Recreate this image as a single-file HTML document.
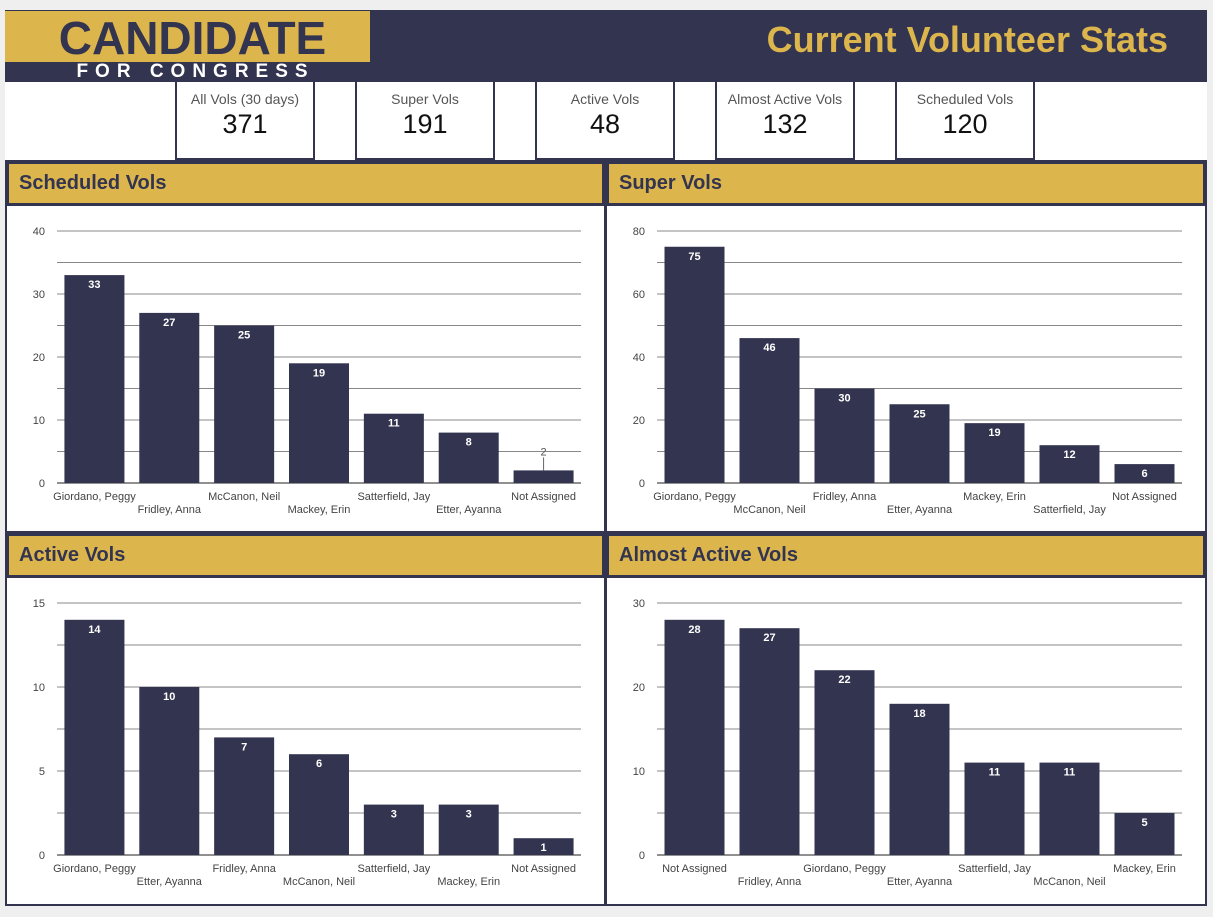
<!DOCTYPE html>
<html><head><meta charset="utf-8">
<style>
*{box-sizing:border-box;margin:0;padding:0}
body{width:1213px;height:917px;background:#efefef;font-family:"Liberation Sans",sans-serif;position:relative;overflow:hidden}
.abs{position:absolute}
#hdr{left:5px;top:10px;width:1202px;height:72px;background:#33344f}
#logo{left:5px;top:11px;width:365px;height:51px;background:#dcb64d;color:#33344f;font-weight:bold;font-size:46px;text-align:center;line-height:54px;letter-spacing:0px;padding-left:10px}
#logo2{left:5px;top:62px;width:365px;height:20px;color:#fff;font-weight:bold;font-size:19px;letter-spacing:7px;text-align:center;line-height:20px;padding-left:16px}
#title{right:45px;top:16px;color:#dcb64d;font-weight:bold;font-size:36px;line-height:48px}
#kpirow{left:5px;top:82px;width:1202px;height:78px;background:#fff}
.card{top:82px;width:140px;height:78px;background:#fff;border:2px solid #33344f;border-top:none;text-align:center}
.card .l{font-size:14px;color:#555;margin-top:9px}
.card .v{font-size:27px;color:#111;margin-top:2px}
.panel{background:#fff;border:2px solid #33344f}
.ph{background:#dcb64d;border:3px solid #33344f;color:#33344f;font-weight:bold;font-size:20px;line-height:39px;padding-left:10px}
</style></head><body>
<div id="hdr" class="abs"></div>
<div id="logo" class="abs">CANDIDATE</div>
<div id="logo2" class="abs">FOR CONGRESS</div>
<div id="title" class="abs">Current Volunteer Stats</div>
<div id="kpirow" class="abs"></div>
<div class="abs card" style="left:175px"><div class="l">All Vols (30 days)</div><div class="v">371</div></div>
<div class="abs card" style="left:355px"><div class="l">Super Vols</div><div class="v">191</div></div>
<div class="abs card" style="left:535px"><div class="l">Active Vols</div><div class="v">48</div></div>
<div class="abs card" style="left:715px"><div class="l">Almost Active Vols</div><div class="v">132</div></div>
<div class="abs card" style="left:895px"><div class="l">Scheduled Vols</div><div class="v">120</div></div>

<div class="abs panel" style="left:5px;top:160px;width:601px;height:373px"></div>
<div class="abs panel" style="left:605px;top:160px;width:602px;height:373px"></div>
<div class="abs panel" style="left:5px;top:532px;width:601px;height:374px"></div>
<div class="abs panel" style="left:605px;top:532px;width:602px;height:374px"></div>
<div class="abs ph" style="left:6px;top:161px;width:599px;height:45px">Scheduled Vols</div>
<div class="abs ph" style="left:606px;top:161px;width:600px;height:45px">Super Vols</div>
<div class="abs ph" style="left:6px;top:533px;width:599px;height:45px">Active Vols</div>
<div class="abs ph" style="left:606px;top:533px;width:600px;height:45px">Almost Active Vols</div>

<svg class="abs" style="left:0;top:0" width="1213" height="917" id="charts"></svg>
<script>
const schedCats=["Giordano, Peggy","Fridley, Anna","McCanon, Neil","Mackey, Erin","Satterfield, Jay","Etter, Ayanna","Not Assigned"];
const schedVals=[33,27,25,19,11,8,2];
const schedTicks=[0,10,20,30,40];
const superCats=["Giordano, Peggy","McCanon, Neil","Fridley, Anna","Etter, Ayanna","Mackey, Erin","Satterfield, Jay","Not Assigned"];
const superVals=[75,46,30,25,19,12,6];
const superTicks=[0,20,40,60,80];
const activeCats=["Giordano, Peggy","Etter, Ayanna","Fridley, Anna","McCanon, Neil","Satterfield, Jay","Mackey, Erin","Not Assigned"];
const activeVals=[14,10,7,6,3,3,1];
const activeTicks=[0,5,10,15];
const almostCats=["Not Assigned","Fridley, Anna","Giordano, Peggy","Etter, Ayanna","Satterfield, Jay","McCanon, Neil","Mackey, Erin"];
const almostVals=[28,27,22,18,11,11,5];
const almostTicks=[0,10,20,30];

const NS="http://www.w3.org/2000/svg";
const svg=document.getElementById('charts');
function mk(tag,attrs,parent){const e=document.createElementNS(NS,tag);for(const k in attrs)e.setAttribute(k,attrs[k]);(parent||svg).appendChild(e);return e;}
function chart(name,x0,x1,yTop,yBot,cats,vals,ticks){
  const g=mk('g',{});
  
  
  const max=ticks[ticks.length-1];
  const step=ticks[1]-ticks[0];
  const y=v=>yBot-(v/max)*(yBot-yTop);
  for(let v=0;v<=max+1e-9;v+=step/2){
    const l=mk('line',{x1:x0,x2:x1,y1:y(v),y2:y(v),stroke:v===0?'#222':'#888','stroke-width':1},g);
    
    
  }
  ticks.forEach(t=>{
    const tx=mk('text',{x:x0-12,y:y(t)+4,'text-anchor':'end','font-size':11,fill:'#444'},g);
    tx.textContent=t;
    
    
  });
  const pitch=(x1-x0)/cats.length, bw=60;
  cats.forEach((c,i)=>{
    const cx=x0+pitch*(i+0.5);
    const v=vals[i];
    const b=mk('rect',{x:cx-bw/2,y:y(v),width:bw,height:yBot-y(v),fill:'#33344f'},g);
    
    
    const h=yBot-y(v);
    let lt;
    if(h>=15){
      lt=mk('text',{x:cx,y:y(v)+13,'text-anchor':'middle','font-size':11,'font-weight':'bold',fill:'#fff'},g);
    }else{
      mk('line',{x1:cx,x2:cx,y1:y(v)-13,y2:y(v),stroke:'#666','stroke-width':1},g);
      lt=mk('text',{x:cx,y:y(v)-15,'text-anchor':'middle','font-size':11,fill:'#555'},g);
    }
    lt.textContent=v;
    
    
    const ct=mk('text',{x:cx,y:yBot+(i%2?30:17),'text-anchor':'middle','font-size':11,fill:'#444'},g);
    ct.textContent=c;
    
    
  });
}
chart('scheduled',57,581,231,483,schedCats,schedVals,schedTicks);
chart('super',657,1182,231,483,superCats,superVals,superTicks);
chart('active',57,581,603,855,activeCats,activeVals,activeTicks);
chart('almost-active',657,1182,603,855,almostCats,almostVals,almostTicks);
</script>
</body></html>
